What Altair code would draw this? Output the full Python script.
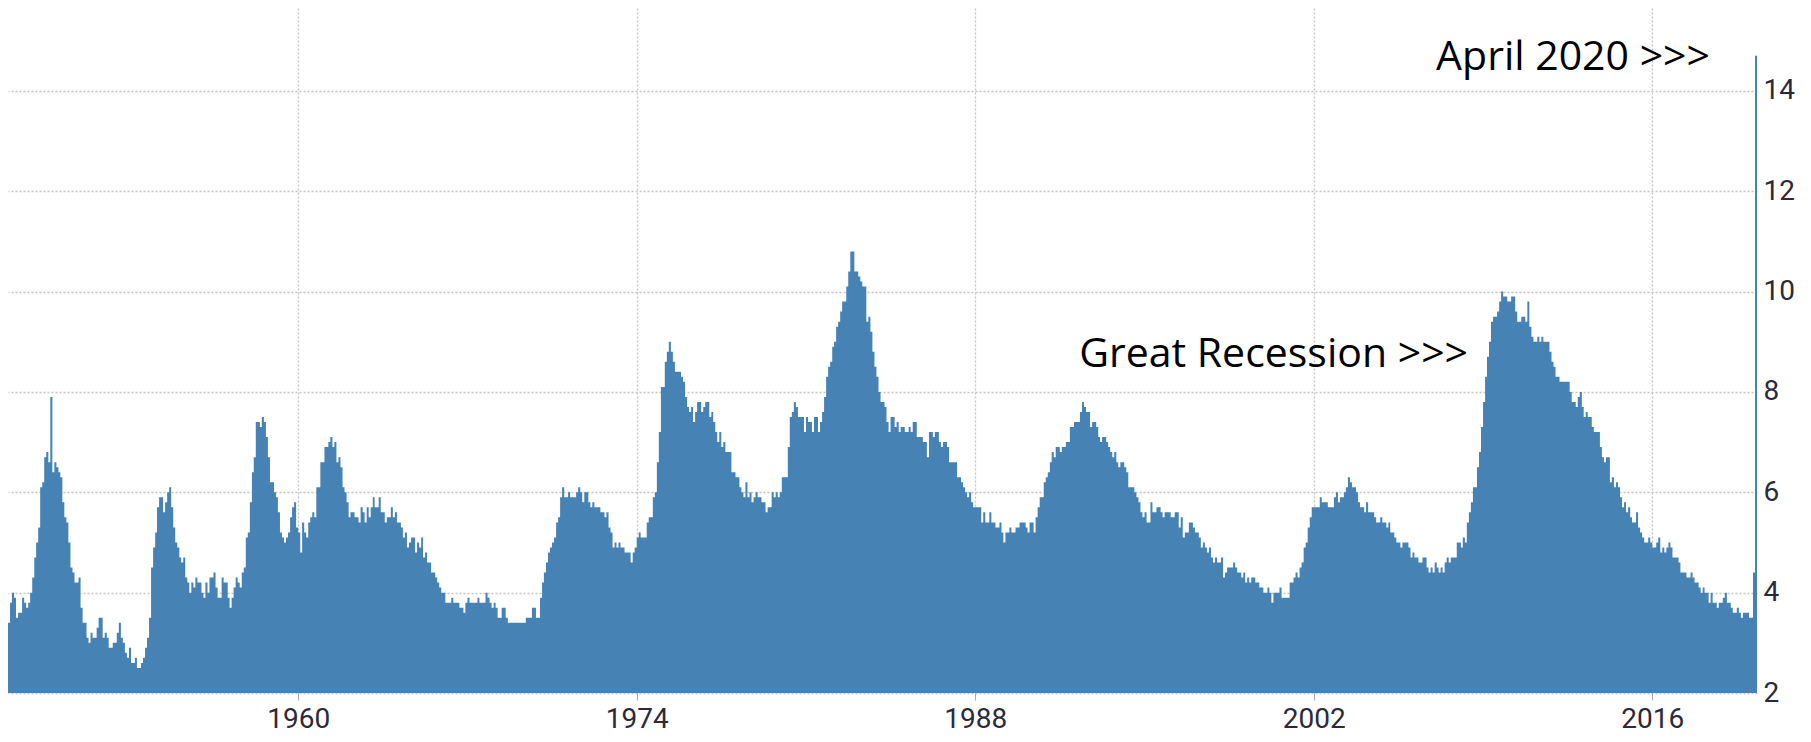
import altair as alt
import pandas as pd

# US monthly unemployment rate (%)
rate_1948_1949 = [3.4, 3.8, 4.0, 3.9, 3.5, 3.6, 3.6, 3.9, 3.8, 3.7, 3.8, 4.0,
                  4.3, 4.7, 5.0, 5.3, 6.1, 6.2, 6.7, 6.8, 6.6, 7.9, 6.4, 6.6]
rate_1950s = [6.5, 6.4, 6.3, 5.8, 5.5, 5.4, 5.0, 4.5, 4.4, 4.2, 4.2, 4.3,
              3.7, 3.4, 3.4, 3.1, 3.0, 3.2, 3.1, 3.1, 3.3, 3.5, 3.5, 3.1,
              3.2, 3.1, 2.9, 2.9, 3.0, 3.0, 3.2, 3.4, 3.1, 3.0, 2.8, 2.7,
              2.9, 2.6, 2.6, 2.7, 2.5, 2.5, 2.6, 2.7, 2.9, 3.1, 3.5, 4.5,
              4.9, 5.2, 5.7, 5.9, 5.9, 5.6, 5.8, 6.0, 6.1, 5.7, 5.3, 5.0,
              4.9, 4.7, 4.6, 4.7, 4.3, 4.2, 4.0, 4.2, 4.1, 4.3, 4.2, 4.2,
              4.0, 3.9, 4.2, 4.0, 4.3, 4.3, 4.4, 4.1, 3.9, 3.9, 4.3, 4.2,
              4.2, 3.9, 3.7, 3.9, 4.1, 4.3, 4.2, 4.1, 4.4, 4.5, 5.1, 5.2,
              5.8, 6.4, 6.7, 7.4, 7.4, 7.3, 7.5, 7.4, 7.1, 6.7, 6.2, 6.2,
              6.0, 5.9, 5.6, 5.2, 5.1, 5.0, 5.1, 5.2, 5.5, 5.7, 5.8, 5.3]
rate_1960s = [5.2, 4.8, 5.4, 5.2, 5.1, 5.4, 5.5, 5.6, 5.5, 6.1, 6.1, 6.6,
              6.6, 6.9, 6.9, 7.0, 7.1, 6.9, 7.0, 6.6, 6.7, 6.5, 6.1, 6.0,
              5.8, 5.5, 5.6, 5.6, 5.5, 5.5, 5.4, 5.7, 5.6, 5.4, 5.7, 5.5,
              5.7, 5.9, 5.7, 5.7, 5.9, 5.6, 5.6, 5.4, 5.5, 5.5, 5.7, 5.5,
              5.6, 5.4, 5.4, 5.3, 5.1, 5.2, 4.9, 5.0, 5.1, 5.1, 4.8, 5.0,
              4.9, 5.1, 4.7, 4.8, 4.6, 4.6, 4.4, 4.4, 4.3, 4.2, 4.1, 4.0,
              4.0, 3.8, 3.8, 3.8, 3.9, 3.8, 3.8, 3.8, 3.7, 3.7, 3.6, 3.8,
              3.9, 3.8, 3.8, 3.8, 3.8, 3.9, 3.8, 3.8, 3.8, 4.0, 3.9, 3.8,
              3.7, 3.8, 3.7, 3.5, 3.5, 3.7, 3.7, 3.5, 3.4, 3.4, 3.4, 3.4,
              3.4, 3.4, 3.4, 3.4, 3.4, 3.5, 3.5, 3.5, 3.7, 3.7, 3.5, 3.5]
rate_1970s = [3.9, 4.2, 4.4, 4.6, 4.8, 4.9, 5.0, 5.1, 5.4, 5.5, 5.9, 6.1,
              5.9, 5.9, 6.0, 5.9, 5.9, 5.9, 6.0, 6.1, 6.0, 5.8, 6.0, 6.0,
              5.8, 5.7, 5.8, 5.7, 5.7, 5.7, 5.6, 5.6, 5.5, 5.6, 5.3, 5.2,
              4.9, 5.0, 4.9, 5.0, 4.9, 4.9, 4.8, 4.8, 4.8, 4.6, 4.8, 4.9,
              5.1, 5.2, 5.1, 5.1, 5.1, 5.4, 5.5, 5.5, 5.9, 6.0, 6.6, 7.2,
              8.1, 8.1, 8.6, 8.8, 9.0, 8.8, 8.6, 8.4, 8.4, 8.4, 8.3, 8.2,
              7.9, 7.7, 7.6, 7.7, 7.4, 7.6, 7.8, 7.8, 7.6, 7.7, 7.8, 7.8,
              7.5, 7.6, 7.4, 7.2, 7.0, 7.2, 6.9, 7.0, 6.8, 6.8, 6.8, 6.4,
              6.4, 6.3, 6.3, 6.1, 6.0, 5.9, 6.2, 5.9, 6.0, 5.8, 5.9, 6.0,
              5.9, 5.9, 5.8, 5.8, 5.6, 5.7, 5.7, 6.0, 5.9, 6.0, 5.9, 6.0]
rate_1980s = [6.3, 6.3, 6.3, 6.9, 7.5, 7.6, 7.8, 7.7, 7.5, 7.5, 7.5, 7.2,
              7.5, 7.4, 7.4, 7.2, 7.5, 7.5, 7.2, 7.4, 7.6, 7.9, 8.3, 8.5,
              8.6, 8.9, 9.0, 9.3, 9.4, 9.6, 9.8, 9.8, 10.1, 10.4, 10.8, 10.8,
              10.4, 10.4, 10.3, 10.2, 10.1, 10.1, 9.4, 9.5, 9.2, 8.8, 8.5, 8.3,
              8.0, 7.8, 7.8, 7.7, 7.4, 7.2, 7.5, 7.5, 7.3, 7.4, 7.2, 7.3,
              7.3, 7.2, 7.2, 7.3, 7.2, 7.4, 7.4, 7.1, 7.1, 7.1, 7.0, 7.0,
              6.7, 7.2, 7.2, 7.1, 7.2, 7.2, 7.0, 6.9, 7.0, 7.0, 6.9, 6.6,
              6.6, 6.6, 6.6, 6.3, 6.3, 6.2, 6.1, 6.0, 5.9, 6.0, 5.8, 5.7,
              5.7, 5.7, 5.7, 5.4, 5.6, 5.4, 5.4, 5.6, 5.4, 5.4, 5.3, 5.3,
              5.4, 5.2, 5.0, 5.2, 5.2, 5.3, 5.2, 5.2, 5.3, 5.3, 5.4, 5.4]
rate_1990s = [5.4, 5.3, 5.2, 5.4, 5.4, 5.2, 5.5, 5.7, 5.9, 5.9, 6.2, 6.3,
              6.4, 6.6, 6.8, 6.7, 6.9, 6.9, 6.8, 6.9, 6.9, 7.0, 7.0, 7.3,
              7.3, 7.4, 7.4, 7.4, 7.6, 7.8, 7.7, 7.6, 7.6, 7.3, 7.4, 7.4,
              7.3, 7.1, 7.0, 7.1, 7.1, 7.0, 6.9, 6.8, 6.7, 6.8, 6.6, 6.5,
              6.6, 6.6, 6.5, 6.4, 6.1, 6.1, 6.1, 6.0, 5.9, 5.8, 5.6, 5.5,
              5.6, 5.4, 5.4, 5.8, 5.6, 5.6, 5.7, 5.7, 5.6, 5.5, 5.6, 5.6,
              5.6, 5.5, 5.5, 5.6, 5.6, 5.3, 5.5, 5.1, 5.2, 5.2, 5.4, 5.4,
              5.3, 5.2, 5.2, 5.1, 4.9, 5.0, 4.9, 4.8, 4.9, 4.7, 4.6, 4.7,
              4.6, 4.6, 4.7, 4.3, 4.4, 4.5, 4.5, 4.5, 4.6, 4.5, 4.4, 4.4,
              4.3, 4.4, 4.2, 4.3, 4.2, 4.3, 4.3, 4.2, 4.2, 4.1, 4.1, 4.0]
rate_2000s = [4.0, 4.1, 4.0, 3.8, 4.0, 4.0, 4.0, 4.1, 3.9, 3.9, 3.9, 3.9,
              4.2, 4.2, 4.3, 4.4, 4.3, 4.5, 4.6, 4.9, 5.0, 5.3, 5.5, 5.7,
              5.7, 5.7, 5.7, 5.9, 5.8, 5.8, 5.8, 5.7, 5.7, 5.7, 5.9, 6.0,
              5.8, 5.9, 5.9, 6.0, 6.1, 6.3, 6.2, 6.1, 6.1, 6.0, 5.8, 5.7,
              5.7, 5.6, 5.8, 5.6, 5.6, 5.6, 5.5, 5.4, 5.4, 5.5, 5.4, 5.4,
              5.3, 5.4, 5.2, 5.2, 5.1, 5.0, 5.0, 4.9, 5.0, 5.0, 5.0, 4.9,
              4.7, 4.8, 4.7, 4.7, 4.6, 4.6, 4.7, 4.7, 4.5, 4.4, 4.5, 4.4,
              4.6, 4.5, 4.4, 4.5, 4.4, 4.6, 4.7, 4.6, 4.7, 4.7, 4.7, 5.0,
              5.0, 4.9, 5.1, 5.0, 5.4, 5.6, 5.8, 6.1, 6.1, 6.5, 6.8, 7.3,
              7.8, 8.3, 8.7, 9.0, 9.4, 9.5, 9.5, 9.6, 9.8, 10.0, 9.9, 9.9]
rate_2010s = [9.8, 9.8, 9.9, 9.9, 9.6, 9.4, 9.4, 9.5, 9.5, 9.4, 9.8, 9.3,
              9.1, 9.0, 9.0, 9.1, 9.0, 9.1, 9.0, 9.0, 9.0, 8.8, 8.6, 8.5,
              8.3, 8.3, 8.2, 8.2, 8.2, 8.2, 8.2, 8.0, 7.8, 7.8, 7.7, 7.9,
              8.0, 7.7, 7.5, 7.6, 7.5, 7.5, 7.3, 7.2, 7.2, 7.2, 6.9, 6.7,
              6.6, 6.7, 6.7, 6.2, 6.3, 6.1, 6.2, 6.1, 5.9, 5.7, 5.8, 5.6,
              5.7, 5.5, 5.4, 5.4, 5.6, 5.3, 5.2, 5.1, 5.0, 5.0, 5.1, 5.0,
              4.9, 4.9, 5.0, 5.1, 4.8, 4.9, 4.8, 4.9, 5.0, 4.9, 4.7, 4.7,
              4.7, 4.6, 4.4, 4.4, 4.4, 4.3, 4.3, 4.4, 4.3, 4.2, 4.2, 4.1,
              4.0, 4.1, 4.0, 4.0, 3.8, 4.0, 3.8, 3.8, 3.7, 3.8, 3.8, 3.9,
              4.0, 3.8, 3.8, 3.7, 3.6, 3.6, 3.7, 3.6, 3.5, 3.6, 3.6, 3.6]
rate_2020 = [3.5, 3.5, 4.4, 14.7]

tick_years = [1960, 1974, 1988, 2002, 2016]
y_ticks = [2, 4, 6, 8, 10, 12, 14]

ann_labels = ["April 2020 >>>", "Great Recession >>>"]
ann_dates = ["2018-05-22", "2008-05-19"]
ann_values = [14.42, 8.5]

rates = (rate_1948_1949 + rate_1950s + rate_1960s + rate_1970s + rate_1980s
         + rate_1990s + rate_2000s + rate_2010s + rate_2020)
dates = pd.date_range("1948-01-01", periods=len(rates), freq="MS")
df = pd.DataFrame({"date": dates.strftime("%Y-%m-%d"), "rate": rates})
# closing edge of the last monthly step
end_date = (dates[-1] + pd.offsets.MonthBegin(1)).strftime("%Y-%m-%d")
df = pd.concat([df, pd.DataFrame({"date": [end_date], "rate": [rates[-1]]})],
               ignore_index=True)

ann = pd.DataFrame({"label": ann_labels, "date": ann_dates, "value": ann_values})

AXIS_FONT = "Roboto, Liberation Sans, sans-serif"
GRID = "#c4c4c4"

x_scale = alt.Scale(domain=[alt.DateTime(year=1948, month=1, date=1),
                            alt.DateTime(year=2020, month=5, date=1)])
y_scale = alt.Scale(domain=[2, 15.65], nice=False, zero=False)

area = alt.Chart(df).mark_area(interpolate="step-after", color="#4682b4").encode(
    x=alt.X("date:T", scale=x_scale,
            axis=alt.Axis(values=[alt.DateTime(year=y, month=1, date=1) for y in tick_years],
                          format="%Y", title=None, domain=False,
                          grid=True, gridColor=GRID, gridDash=[2, 2], gridWidth=1.3,
                          tickColor="#aaaaaa", tickSize=7, labelPadding=5,
                          labelFont=AXIS_FONT, labelFontSize=28, labelColor="#2a2a3a",
                          labelFlush=False)),
    y=alt.Y("rate:Q", scale=y_scale,
            axis=alt.Axis(orient="right", values=y_ticks, title=None, domain=False,
                          ticks=False, grid=True, gridColor=GRID, gridDash=[2, 2],
                          gridWidth=1.3, labelPadding=6,
                          labelFont=AXIS_FONT, labelFontSize=28, labelColor="#2a2a3a")),
    y2=alt.datum(2),
)

text = alt.Chart(ann).mark_text(align="right", baseline="alphabetic",
                                font="Open Sans", fontSize=41, color="#000000").encode(
    x=alt.X("date:T", scale=x_scale),
    y=alt.Y("value:Q", scale=y_scale),
    text="label:N",
)

chart = alt.layer(area, text).properties(
    width=1749, height=685,
    padding={"left": 0, "top": 0, "right": 2, "bottom": 0},
).configure_view(stroke=None)

chart.save("out.html", embed_options={"renderer": "svg", "actions": False})
